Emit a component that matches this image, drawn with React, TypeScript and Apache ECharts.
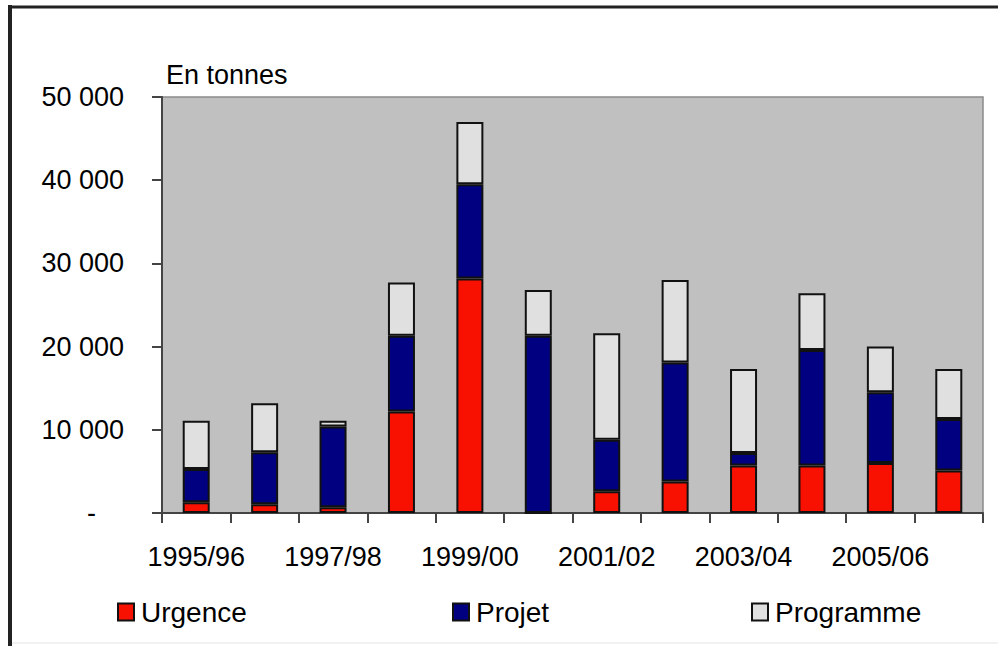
import React, { useEffect, useRef } from "react";
import * as echarts from "echarts";

const categories = [
  "1995/96", "1996/97", "1997/98", "1998/99", "1999/00", "2000/01",
  "2001/02", "2002/03", "2003/04", "2004/05", "2005/06", "2006/07",
];
const urgence = [1300, 1050, 700, 12200, 28200, 0, 2600, 3800, 5700, 5700, 6000, 5100];
const projet = [4000, 6250, 9700, 9100, 11300, 21300, 6200, 14300, 1500, 13900, 8500, 6200];
const programme = [5800, 5900, 700, 6400, 7500, 5500, 12800, 9900, 10100, 6800, 5500, 6000];
const seriesNames = ["Urgence", "Projet", "Programme"];
const unitLabel = "En tonnes";

const FONT = "'Liberation Sans', Arial, sans-serif";

function fmt(v: number): string {
  if (v === 0) return "{d|-}";
  const s = String(Math.round(v));
  return s.replace(/\B(?=(\d{3})+(?!\d))/g, " ");
}

export default function App() {
  const ref = useRef<HTMLDivElement>(null);
  useEffect(() => {
    if (!ref.current) return;
    const chart = echarts.init(ref.current, null, { renderer: "svg" });
    const barBorder = { borderColor: "#111", borderWidth: 2 };
    chart.setOption({
      animation: false,
      backgroundColor: "#fff",
      textStyle: { fontFamily: FONT, color: "#000" },
      grid: {
        left: 162,
        top: 97,
        right: 15,
        bottom: 133,
        show: true,
        backgroundColor: "#c0c0c0",
        borderColor: "#8a8a8a",
        borderWidth: 1.5,
      },
      graphic: [
        { type: "line", shape: { x1: 8, y1: 7, x2: 998, y2: 7 }, style: { stroke: "#222", lineWidth: 3 } },
        { type: "line", shape: { x1: 10, y1: 5, x2: 10, y2: 646 }, style: { stroke: "#222", lineWidth: 4 } },
        { type: "line", shape: { x1: 12, y1: 643, x2: 998, y2: 643 }, style: { stroke: "#e4e4e4", lineWidth: 1 } },
        {
          type: "text",
          left: 166,
          top: 61,
          style: { text: unitLabel, fontSize: 27, fontFamily: FONT, fill: "#000" },
        },
      ],
      legend: seriesNames.map((n, i) => ({
        data: [n],
        left: [112, 447, 746][i],
        top: 593,
        itemWidth: 16,
        itemHeight: 17,
        icon: "rect",
        textStyle: { fontSize: 28, fontFamily: FONT, color: "#000", padding: [0, 0, 0, 2] },
        selectedMode: false,
      })),
      xAxis: {
        type: "category",
        data: categories,
        axisLine: { lineStyle: { color: "#444", width: 2 } },
        axisTick: { show: true, length: 10, interval: 0, lineStyle: { color: "#444", width: 2 } },
        axisLabel: { interval: 1, fontSize: 27, margin: 30, color: "#000", fontFamily: FONT },
      },
      yAxis: {
        type: "value",
        min: 0,
        max: 50000,
        interval: 10000,
        axisLine: { show: true, lineStyle: { color: "#444", width: 2 } },
        axisTick: { show: true, length: 10, lineStyle: { color: "#444", width: 2 } },
        splitLine: { show: false },
        axisLabel: {
          fontSize: 27,
          margin: 38,
          color: "#000",
          fontFamily: FONT,
          formatter: fmt,
          rich: { d: { fontSize: 27, fontFamily: FONT, color: "#000", padding: [0, 28, 0, 0] } },
        },
      },
      series: [
        { name: "Urgence", type: "bar", stack: "t", data: urgence, barWidth: 27, itemStyle: { color: "#f81000", ...barBorder } },
        { name: "Projet", type: "bar", stack: "t", data: projet, barWidth: 27, itemStyle: { color: "#000080", ...barBorder } },
        { name: "Programme", type: "bar", stack: "t", data: programme, barWidth: 27, itemStyle: { color: "#e0e0e0", ...barBorder } },
      ],
    });
    return () => chart.dispose();
  }, []);
  return <div ref={ref} style={{ width: 998, height: 646, position: "absolute", left: 0, top: 0 }} />;
}
